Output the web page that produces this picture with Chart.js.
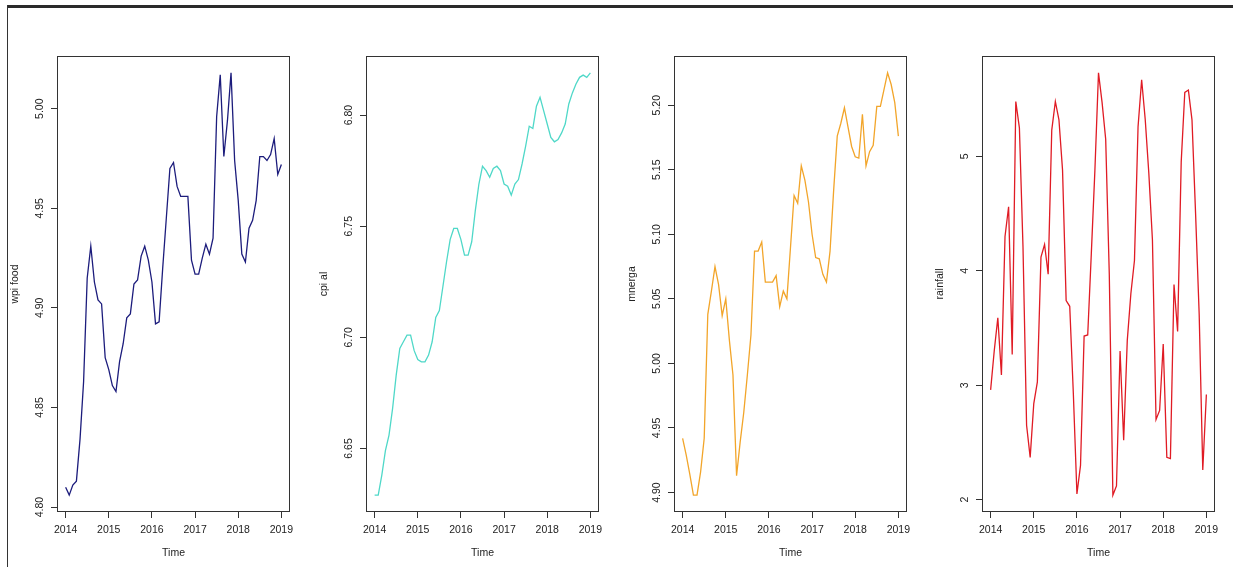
<!DOCTYPE html>
<html>
<head>
<meta charset="utf-8">
<script src="https://cdn.jsdelivr.net/npm/chart.js@4/dist/chart.umd.min.js"></script>
<style>
  body { margin: 0; background: #fff; width: 1233px; height: 567px; overflow: hidden; position: relative; }
  #topbar { position: absolute; left: 7px; top: 5px; width: 1226px; height: 3px; background: #2a2a2a; }
  #leftbar { position: absolute; left: 7px; top: 5px; width: 1px; height: 562px; background: #333; }
  canvas { position: absolute; top: 40px; }
</style>
</head>
<body>
<div id="topbar"></div>
<div id="leftbar"></div>
<canvas id="c0" width="300" height="527"></canvas>
<canvas id="c1" width="300" height="527"></canvas>
<canvas id="c2" width="300" height="527"></canvas>
<canvas id="c3" width="300" height="527"></canvas>
<script>
// monthly series, Jan 2014 .. Jan 2019
const years = [2014, 2015, 2016, 2017, 2018, 2019];

const wpiFood = [
  4.810, 4.806, 4.811, 4.813, 4.834, 4.863, 4.915, 4.931, 4.913, 4.904, 4.902, 4.875,
  4.869, 4.861, 4.858, 4.873, 4.882, 4.895, 4.897, 4.912, 4.914, 4.926, 4.931, 4.924,
  4.913, 4.892, 4.893, 4.920, 4.945, 4.970, 4.973, 4.961, 4.956, 4.956, 4.956, 4.924,
  4.917, 4.917, 4.925, 4.932, 4.927, 4.935, 4.996, 5.017, 4.976, 4.994, 5.018, 4.974,
  4.954, 4.927, 4.923, 4.940, 4.944, 4.954, 4.976, 4.976, 4.974, 4.977, 4.985, 4.967,
  4.972
];
const cpiAl = [
  6.629, 6.629, 6.638, 6.649, 6.656, 6.668, 6.683, 6.695, 6.698, 6.701, 6.701, 6.694,
  6.690, 6.689, 6.689, 6.692, 6.698, 6.709, 6.712, 6.723, 6.734, 6.744, 6.749, 6.749,
  6.744, 6.737, 6.737, 6.743, 6.757, 6.769, 6.777, 6.775, 6.772, 6.776, 6.777, 6.775,
  6.769, 6.768, 6.764, 6.769, 6.771, 6.778, 6.786, 6.795, 6.794, 6.804, 6.808, 6.802,
  6.796, 6.790, 6.788, 6.789, 6.792, 6.796, 6.805, 6.810, 6.814, 6.817, 6.818, 6.817,
  6.819
];
const mnerga = [
  4.942, 4.929, 4.914, 4.898, 4.898, 4.916, 4.942, 5.038, 5.056, 5.075, 5.061, 5.037,
  5.050, 5.018, 4.991, 4.913, 4.939, 4.962, 4.991, 5.022, 5.087, 5.087, 5.094, 5.063,
  5.063, 5.063, 5.068, 5.044, 5.056, 5.050, 5.090, 5.130, 5.124, 5.153, 5.142, 5.125,
  5.100, 5.082, 5.081, 5.069, 5.063, 5.087, 5.134, 5.176, 5.186, 5.198, 5.183, 5.168,
  5.160, 5.159, 5.193, 5.153, 5.164, 5.169, 5.199, 5.199, 5.212, 5.225, 5.216, 5.202,
  5.176
];
const rainfall = [
  2.96, 3.30, 3.59, 3.09, 4.30, 4.56, 3.27, 5.48, 5.25, 4.21, 2.65, 2.37,
  2.84, 3.03, 4.12, 4.23, 3.97, 5.23, 5.48, 5.32, 4.88, 3.74, 3.69, 2.93,
  2.05, 2.30, 3.43, 3.44, 4.15, 4.88, 5.73, 5.47, 5.15, 3.97, 2.04, 2.12,
  3.30, 2.52, 3.39, 3.80, 4.09, 5.26, 5.67, 5.32, 4.85, 4.27, 2.70, 2.78,
  3.36, 2.37, 2.36, 3.88, 3.47, 4.95, 5.56, 5.58, 5.32, 4.50, 3.62, 2.26,
  2.92
];

const wpiTicks = [4.80, 4.85, 4.90, 4.95, 5.00];
const cpiTicks = [6.65, 6.70, 6.75, 6.80];
const mnergaTicks = [4.90, 4.95, 5.00, 5.05, 5.10, 5.15, 5.20];
const rainTicks = [2, 3, 4, 5];

const time = wpiFood.map((_, i) => 2014 + i / 12);

const FONT = '"Liberation Sans", Arial, sans-serif';
Chart.defaults.font.family = FONT;
Chart.defaults.font.size = 10.5;
Chart.defaults.color = '#222';

// R style: box around the plot region
const boxPlugin = {
  id: 'rbox',
  afterDraw(chart) {
    const { ctx, chartArea: a } = chart;
    ctx.save();
    ctx.strokeStyle = '#333';
    ctx.lineWidth = 1;
    ctx.strokeRect(Math.round(a.left) + 0.5, Math.round(a.top) + 0.5,
                   Math.round(a.width) - 1, Math.round(a.height) - 1);
    ctx.restore();
  }
};

const boxLeft = [57, 366, 674, 982];
const AXIS_W = 49;

function makeChart(idx, yTitle, values, color, yTicks, digits) {
  const canvas = document.getElementById('c' + idx);
  canvas.style.left = (boxLeft[idx] - AXIS_W) + 'px';
  const ctx = canvas.getContext('2d');

  // centre rotated tick labels a fixed distance from the box
  ctx.font = '10.5px ' + FONT;
  const widest = Math.max(...yTicks.map(v => ctx.measureText(v.toFixed(digits)).width));
  const yPad = 17 - 6 - widest / 2;

  const lo = Math.min(...values), hi = Math.max(...values);
  const ext = (hi - lo) * 0.04;

  return new Chart(ctx, {
    type: 'line',
    data: {
      datasets: [{
        data: values.map((v, i) => ({ x: time[i], y: v })),
        borderColor: color,
        borderWidth: 1.3,
        pointRadius: 0,
        tension: 0,
        fill: false
      }]
    },
    options: {
      responsive: false,
      animation: false,
      devicePixelRatio: 1,
      layout: { padding: { top: 16, left: 0, right: 18, bottom: 0 } },
      plugins: { legend: { display: false }, tooltip: { enabled: false } },
      scales: {
        x: {
          type: 'linear',
          min: 2013.8,
          max: 2019.2,
          afterBuildTicks: s => { s.ticks = years.map(v => ({ value: v })); },
          afterFit: s => { s.height = 55; },
          grid: { drawOnChartArea: false, drawTicks: true, tickLength: 6, color: '#333' },
          border: { display: false },
          ticks: { padding: 6, maxRotation: 0, autoSkip: false, color: '#222', callback: v => String(v) },
          title: { display: true, text: 'Time', color: '#222', padding: { top: 0, bottom: 8 } }
        },
        y: {
          type: 'linear',
          min: lo - ext,
          max: hi + ext,
          afterBuildTicks: s => { s.ticks = yTicks.map(v => ({ value: v })); },
          afterFit: s => { s.width = AXIS_W; },
          grid: { drawOnChartArea: false, drawTicks: true, tickLength: 6, color: '#333' },
          border: { display: false },
          ticks: {
            minRotation: 90, maxRotation: 90, crossAlign: 'center',
            padding: yPad, autoSkip: false, color: '#222',
            callback: v => Number(v).toFixed(digits)
          },
          title: { display: true, text: yTitle, color: '#222', padding: { top: 1, bottom: 1 } }
        }
      }
    },
    plugins: [boxPlugin]
  });
}

makeChart(0, 'wpi food', wpiFood, '#1c1c7c', wpiTicks, 2);
makeChart(1, 'cpi al', cpiAl, '#4fd8c8', cpiTicks, 2);
makeChart(2, 'mnerga', mnerga, '#f2a52a', mnergaTicks, 2);
makeChart(3, 'rainfall', rainfall, '#e01b24', rainTicks, 0);
</script>
</body>
</html>
